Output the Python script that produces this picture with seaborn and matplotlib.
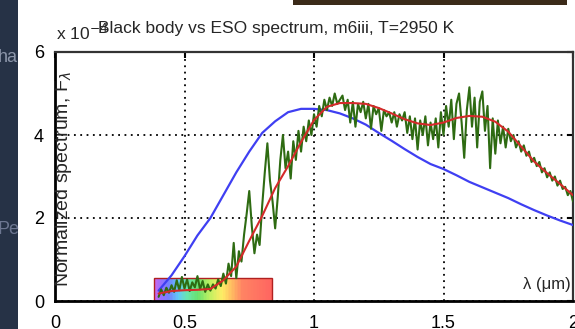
import numpy as np
import pandas as pd
import matplotlib
matplotlib.use("Agg")
import matplotlib.pyplot as plt
from matplotlib.colors import LinearSegmentedColormap
from matplotlib.patches import Rectangle
import seaborn as sns

# ----------------------------------------------------------------------
# Dados
# ----------------------------------------------------------------------
# corpo negro (azul), passo 0.05 um
bb_lambda = [0.40, 0.45, 0.50, 0.55, 0.60, 0.65, 0.70, 0.75, 0.80, 0.85,
             0.90, 0.95, 1.00, 1.05, 1.10, 1.15, 1.20, 1.25, 1.30, 1.35,
             1.40, 1.45, 1.50, 1.55, 1.60, 1.65, 1.70, 1.75, 1.80, 1.85,
             1.90, 1.95, 2.00]
bb_flux = [0.25, 0.62, 1.08, 1.58, 2.00, 2.55, 3.10, 3.60, 4.05, 4.33,
           4.55, 4.63, 4.63, 4.60, 4.52, 4.40, 4.25, 4.05, 3.86, 3.66,
           3.47, 3.30, 3.18, 3.03, 2.87, 2.74, 2.61, 2.48, 2.33, 2.19,
           2.06, 1.94, 1.83]

# espectro ESO suavizado (vermelho)
smooth_lambda = bb_lambda
smooth_flux = [0.18, 0.24, 0.26, 0.27, 0.29, 0.50, 0.83, 1.45, 2.05, 2.72,
               3.25, 3.83, 4.36, 4.68, 4.77, 4.77, 4.75, 4.65, 4.52, 4.38,
               4.28, 4.24, 4.30, 4.41, 4.46, 4.44, 4.32, 4.08, 3.72, 3.36,
               3.08, 2.82, 2.55]

# espectro ESO m6iii (verde), passo 0.01 um de 0.40 a 2.00
eso_flux = [
    0.10, 0.28, 0.14, 0.32, 0.20, 0.38, 0.22, 0.50, 0.26, 0.58,
    0.30, 0.52, 0.24, 0.45, 0.33, 0.60, 0.28, 0.48, 0.22, 0.40,
    0.25, 0.40, 0.30, 0.52, 0.36, 0.66, 0.42, 0.90, 0.60, 1.40,
    0.55, 1.20, 0.95, 1.60, 2.10, 2.65, 1.80, 1.15, 1.60, 1.35,
    2.30, 3.10, 3.80, 2.90, 2.40, 1.75, 2.50, 3.40, 4.00, 3.20,
    3.60, 2.95, 3.85, 3.40, 4.10, 3.60, 4.20, 3.85, 4.35, 4.00,
    4.50, 4.20, 4.70, 4.45, 4.85, 4.60, 4.90, 4.70, 5.00, 4.75,
    4.85, 4.95, 4.60, 4.85, 4.30, 4.80, 4.20, 4.75, 4.55, 4.80,
    4.40, 4.75, 4.15, 4.70, 4.50, 4.65, 4.10, 4.60, 4.45, 4.55,
    4.30, 4.55, 4.20, 4.50, 4.35, 4.55, 4.05, 4.45, 3.90, 4.40,
    3.65, 4.35, 4.00, 4.45, 3.75, 4.30, 3.90, 4.40, 3.70, 4.55,
    4.00, 4.70, 4.20, 4.85, 3.90, 4.75, 5.00, 4.30, 3.45, 4.60,
    5.15, 4.20, 4.90, 3.70, 4.80, 5.05, 4.10, 4.70, 3.20, 4.40,
    3.55, 4.35, 3.80, 4.20, 3.70, 4.15, 3.85, 4.00, 3.70, 3.85,
    3.60, 3.75, 3.50, 3.60, 3.35, 3.45, 3.25, 3.35, 3.10, 3.20,
    2.98, 3.10, 2.90, 3.00, 2.78, 2.90, 2.70, 2.75, 2.55, 2.65,
    2.40]
eso_lambda = [round(0.40 + 0.01 * i, 2) for i in range(len(eso_flux))]

# faixa do visivel
visible_range = [0.382, 0.838]
visible_height = 0.55

xticks = [0, 0.5, 1, 1.5, 2]
xtick_labels = ["0", "0.5", "1", "1.5", "2"]
yticks = [0, 2, 4, 6]

# ----------------------------------------------------------------------
# Estilo
# ----------------------------------------------------------------------
sns.set_style("white")
plt.rcParams['font.family'] = ['Liberation Sans', 'DejaVu Sans']

fig = plt.figure(figsize=(5.75, 3.29), dpi=100)
fig.patch.set_facecolor("white")

# fundo do slide (faixa escura a esquerda e barra marrom no topo)
fig.add_artist(Rectangle((0, 0), 18 / 575, 1, transform=fig.transFigure,
                         facecolor="#263246", edgecolor="none", zorder=0))
fig.add_artist(Rectangle((293 / 575, 1 - 5 / 329), 274 / 575, 5 / 329,
                         transform=fig.transFigure, facecolor="#3b2b19",
                         edgecolor="none", zorder=0))
fig.text(-0.004, 1 - 57 / 329, "ha", color="#8c96aa", fontsize=13, va="center")
fig.text(-0.004, 1 - 230 / 329, "Pe", color="#6c7690", fontsize=13, va="center")

ax = fig.add_axes([55 / 575, 1 - 301 / 329, 518 / 575, 249 / 329])

# gradiente do espectro visivel: faixas finas (cores ja clareadas)
spec_cmap = LinearSegmentedColormap.from_list("visivel", [
    (0.00, "#c04ee8"), (0.05, "#8a55ff"), (0.12, "#5a6cff"),
    (0.20, "#45c0f5"), (0.28, "#4ee0a0"), (0.37, "#4fdc55"),
    (0.47, "#b4ee45"), (0.58, "#ffe94a"), (0.66, "#ffb045"),
    (0.75, "#ff6e48"), (1.00, "#ff4a44")])
n_strips = 80
edges = np.linspace(visible_range[0], visible_range[1], n_strips + 1)
strip_w = edges[1] - edges[0]
strip_cols = spec_cmap(np.linspace(0, 1, n_strips))[:, :3] * 0.85 + 0.15
ax.bar(edges[:-1], visible_height, width=strip_w * 1.02, align="edge",
       color=strip_cols, edgecolor="none", linewidth=0, zorder=1)
ax.add_patch(Rectangle((visible_range[0], 0), visible_range[1] - visible_range[0],
                       visible_height, fill=False, edgecolor="#b02020",
                       linewidth=1.0, zorder=2))

df_bb = pd.DataFrame({"lambda": bb_lambda, "flux": bb_flux})
df_eso = pd.DataFrame({"lambda": eso_lambda, "flux": eso_flux})
df_smooth = pd.DataFrame({"lambda": smooth_lambda, "flux": smooth_flux})

sns.lineplot(data=df_bb, x="lambda", y="flux", ax=ax, color="#3f3ff2",
             linewidth=1.6, zorder=3)
sns.lineplot(data=df_eso, x="lambda", y="flux", ax=ax, color="#2e6b12",
             linewidth=1.5, zorder=4)
sns.lineplot(data=df_smooth, x="lambda", y="flux", ax=ax, color="#d42a2a",
             linewidth=1.5, zorder=5)

ax.set_xlim(0, 2)
ax.set_ylim(0, 6)
ax.set_xticks(xticks)
ax.set_xticklabels(xtick_labels)
ax.set_yticks(yticks)
ax.set_xlabel("")
ax.set_ylabel("")
ax.tick_params(direction="in", length=4, width=1.5, labelsize=13,
               colors="black", pad=8, top=True, right=True)
ax.tick_params(axis="x", pad=10)

ax.grid(True, color="black", linestyle=(0, (1, 2.5)), linewidth=1.3, zorder=0)
ax.set_axisbelow(True)
for side in ["bottom", "left"]:
    ax.spines[side].set_linewidth(2.0)
    ax.spines[side].set_color("black")
for side in ["top", "right"]:
    ax.spines[side].set_linewidth(1.6)
    ax.spines[side].set_color("#333333")

# textos (rotulos dentro da area do grafico, como no original)
ax.text(0.017, 0.49, r"Normalized spectrum, F$_\lambda$", transform=ax.transAxes,
        rotation=90, ha="center", va="center", fontsize=14)
ax.text(0.995, 0.065, "λ (μm)", transform=ax.transAxes, ha="right",
        va="center", fontsize=12)
fig.text(56 / 575, 1 - 33 / 329, r"x 10$^{-4}$", fontsize=12.5, va="center")
fig.text(98 / 575, 1 - 29 / 329, "Black body vs ESO spectrum, m6iii, T=2950 K",
         fontsize=12.5, va="center")

fig.savefig("out.png", dpi=100)
